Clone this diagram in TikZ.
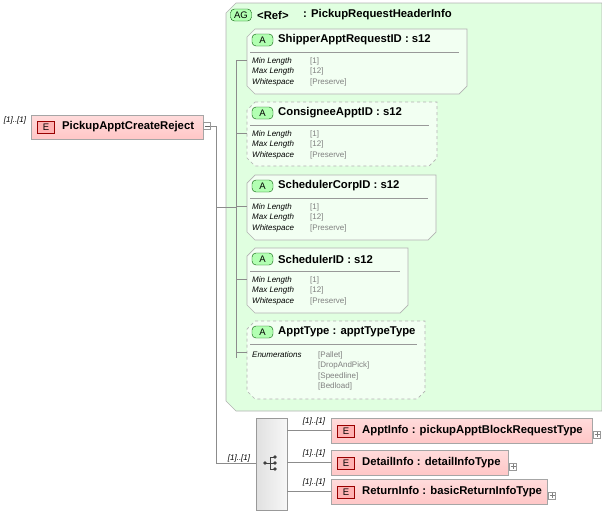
\documentclass[tikz,border=0pt]{standalone}
\usepackage{fontspec}
\setmainfont{Liberation Sans}
\tikzset{
  ln/.style={draw=black!45,line width=0.7pt},
  elem/.style={draw=black!35,top color=red!14,bottom color=red!22,line width=0.7pt},
  ebadge/.style={draw=red!60!black,fill=red!30,minimum width=17pt,minimum height=12pt,inner sep=0pt,font=\fontsize{9.5}{9.5}\selectfont},
  ttl/.style={anchor=west,font=\fontsize{11.3}{12}\selectfont\bfseries,inner sep=0pt},
  occ/.style={font=\fontsize{8}{8}\selectfont\itshape,inner sep=0pt},
  fk/.style={anchor=west,font=\fontsize{8}{8}\selectfont\itshape,inner sep=0pt},
  fv/.style={anchor=west,font=\fontsize{8}{8}\selectfont,text=black!50,inner sep=0pt},
  pmbox/.style={draw=black!40,fill=white,minimum size=7pt,inner sep=0pt},
  attrb/.style={draw=black!30,fill=green!5,line width=0.7pt},
  abadge/.style={draw=green!35!black,fill=green!30,rounded corners=4pt,minimum width=21pt,minimum height=12pt,inner sep=0pt,font=\fontsize{9.5}{9.5}\selectfont}}
\newcommand{\myattrbox}[5]{%
 \draw[attrb,#5] (#1+8,#2)--(#3,#2)--(#3,#4-8)--(#3-8,#4)--(#1+8,#4)--(#1,#4-8)--(#1,#2+8)--cycle;
 \draw[black!40,line width=0.6pt] (250,#2+23)--(#3-8,#2+23);
 \draw[ln] (236,#2+31)--(#1,#2+31);}
\newcommand{\myfacets}[1]{%
 \node[fk] at (252,#1) {Min Length};
 \node[fk] at (252,#1+10.5) {Max Length};
 \node[fk] at (252,#1+21) {Whitespace};
 \node[fv] at (310,#1) {[1]};
 \node[fv] at (310,#1+10.5) {[12]};
 \node[fv] at (310,#1+21) {[Preserve]};}
\begin{document}
\begin{tikzpicture}[x=1pt,y=-1pt]
\useasboundingbox (0,0) rectangle (602,514);
\draw[draw=black!30,fill=green!12,line width=0.7pt] (236,3)--(602,3)--(602,411)--(236,411)--(226,401)--(226,13)--cycle;
\node[abadge] (ag) at (241,15) {AG};
\node[ttl] (ref) at (257,15) {\textless Ref\textgreater};
\node[ttl] (agt) at (303,15) {: PickupRequestHeaderInfo};
\draw[elem] (31,115) rectangle (203,139);
\node[ebadge] (re) at (46,127.5) {E};
\node[ttl] (rt) at (62,126.5) {PickupApptCreateReject};
\node[occ] (ro) at (15,120) {[1]..[1]};
\node[pmbox] (rm) at (207,126) {};
\draw[black!60,line width=0.4pt] (204.5,126)--(209.5,126);
\coordinate (j1) at (216,126);
\coordinate (j2) at (216,207);
\coordinate (j3) at (216,463);
\draw[ln] (rm.east)--(j1)--(j3);
\draw[ln] (j2)--(236,207);
\draw[ln] (236,60)--(236,358);
\myattrbox{247}{29}{467}{94}{solid}
\node[abadge] (a1b) at (262.5,40) {A};
\node[ttl] (a1t) at (278,40) {ShipperApptRequestID : s12};
\myattrbox{247}{102}{437}{166}{dashed}
\node[abadge] (a2b) at (262.5,113) {A};
\node[ttl] (a2t) at (278,113) {ConsigneeApptID : s12};
\myattrbox{247}{175}{436}{240}{solid}
\node[abadge] (a3b) at (262.5,186) {A};
\node[ttl] (a3t) at (278,186) {SchedulerCorpID : s12};
\myattrbox{247}{248}{408}{313}{solid}
\node[abadge] (a4b) at (262.5,259) {A};
\node[ttl] (a4t) at (278,259) {SchedulerID : s12};
\myattrbox{247}{321}{425}{399}{dashed}
\node[abadge] (a5b) at (262.5,332) {A};
\node[ttl] (a5t) at (278,332) {ApptType : apptTypeType};
\myfacets{61}
\myfacets{134}
\myfacets{207}
\myfacets{280}
\node[fk] (ek) at (252,355) {Enumerations};
\node[fv] (e1) at (318,355) {[Pallet]};
\node[fv] (e2) at (318,365.5) {[DropAndPick]};
\node[fv] (e3) at (318,376) {[Speedline]};
\node[fv] (e4) at (318,386.5) {[Bedload]};
\draw[draw=black!40,left color=black!12,right color=black!3,line width=0.7pt] (256,418) rectangle (287,510);
\node[occ] (so) at (239,458) {[1]..[1]};
\draw[ln] (j3)--(256,463);
\draw[black!75,line width=0.8pt] (265,463)--(270,463) (270,457)--(270,469) (270,457)--(275,457) (270,463)--(275,463) (270,469)--(275,469);
\fill[black!75] (265,463) circle (1.8) (275,457) circle (1.8) (275,463) circle (1.8) (275,469) circle (1.8);
\draw[elem] (331,418) rectangle (592,443);
\node[ebadge] (c1b) at (346,431.5) {E};
\node[ttl] (c1t) at (362,430.5) {ApptInfo : pickupApptBlockRequestType};
\node[pmbox] (c1p) at (597,434.5) {};
\node[occ] (c1o) at (314,421.5) {[1]..[1]};
\draw[ln] (287,430.5)--(331,430.5);
\draw[elem] (331,450) rectangle (508,475);
\node[ebadge] (c2b) at (346,463.5) {E};
\node[ttl] (c2t) at (362,462.5) {DetailInfo : detailInfoType};
\node[pmbox] (c2p) at (513,466.5) {};
\node[occ] (c2o) at (314,453.5) {[1]..[1]};
\draw[ln] (287,462.5)--(331,462.5);
\draw[elem] (331,479) rectangle (547,504);
\node[ebadge] (c3b) at (346,492.5) {E};
\node[ttl] (c3t) at (362,491.5) {ReturnInfo : basicReturnInfoType};
\node[pmbox] (c3p) at (552,495.5) {};
\node[occ] (c3o) at (314,482.5) {[1]..[1]};
\draw[ln] (287,491.5)--(331,491.5);
\draw[black!50,line width=0.4pt] (594.5,434.5)--(599.5,434.5) (597,432)--(597,437)
 (510.5,466.5)--(515.5,466.5) (513,464)--(513,469)
 (549.5,495.5)--(554.5,495.5) (552,493)--(552,498);
\end{tikzpicture}
\end{document}
